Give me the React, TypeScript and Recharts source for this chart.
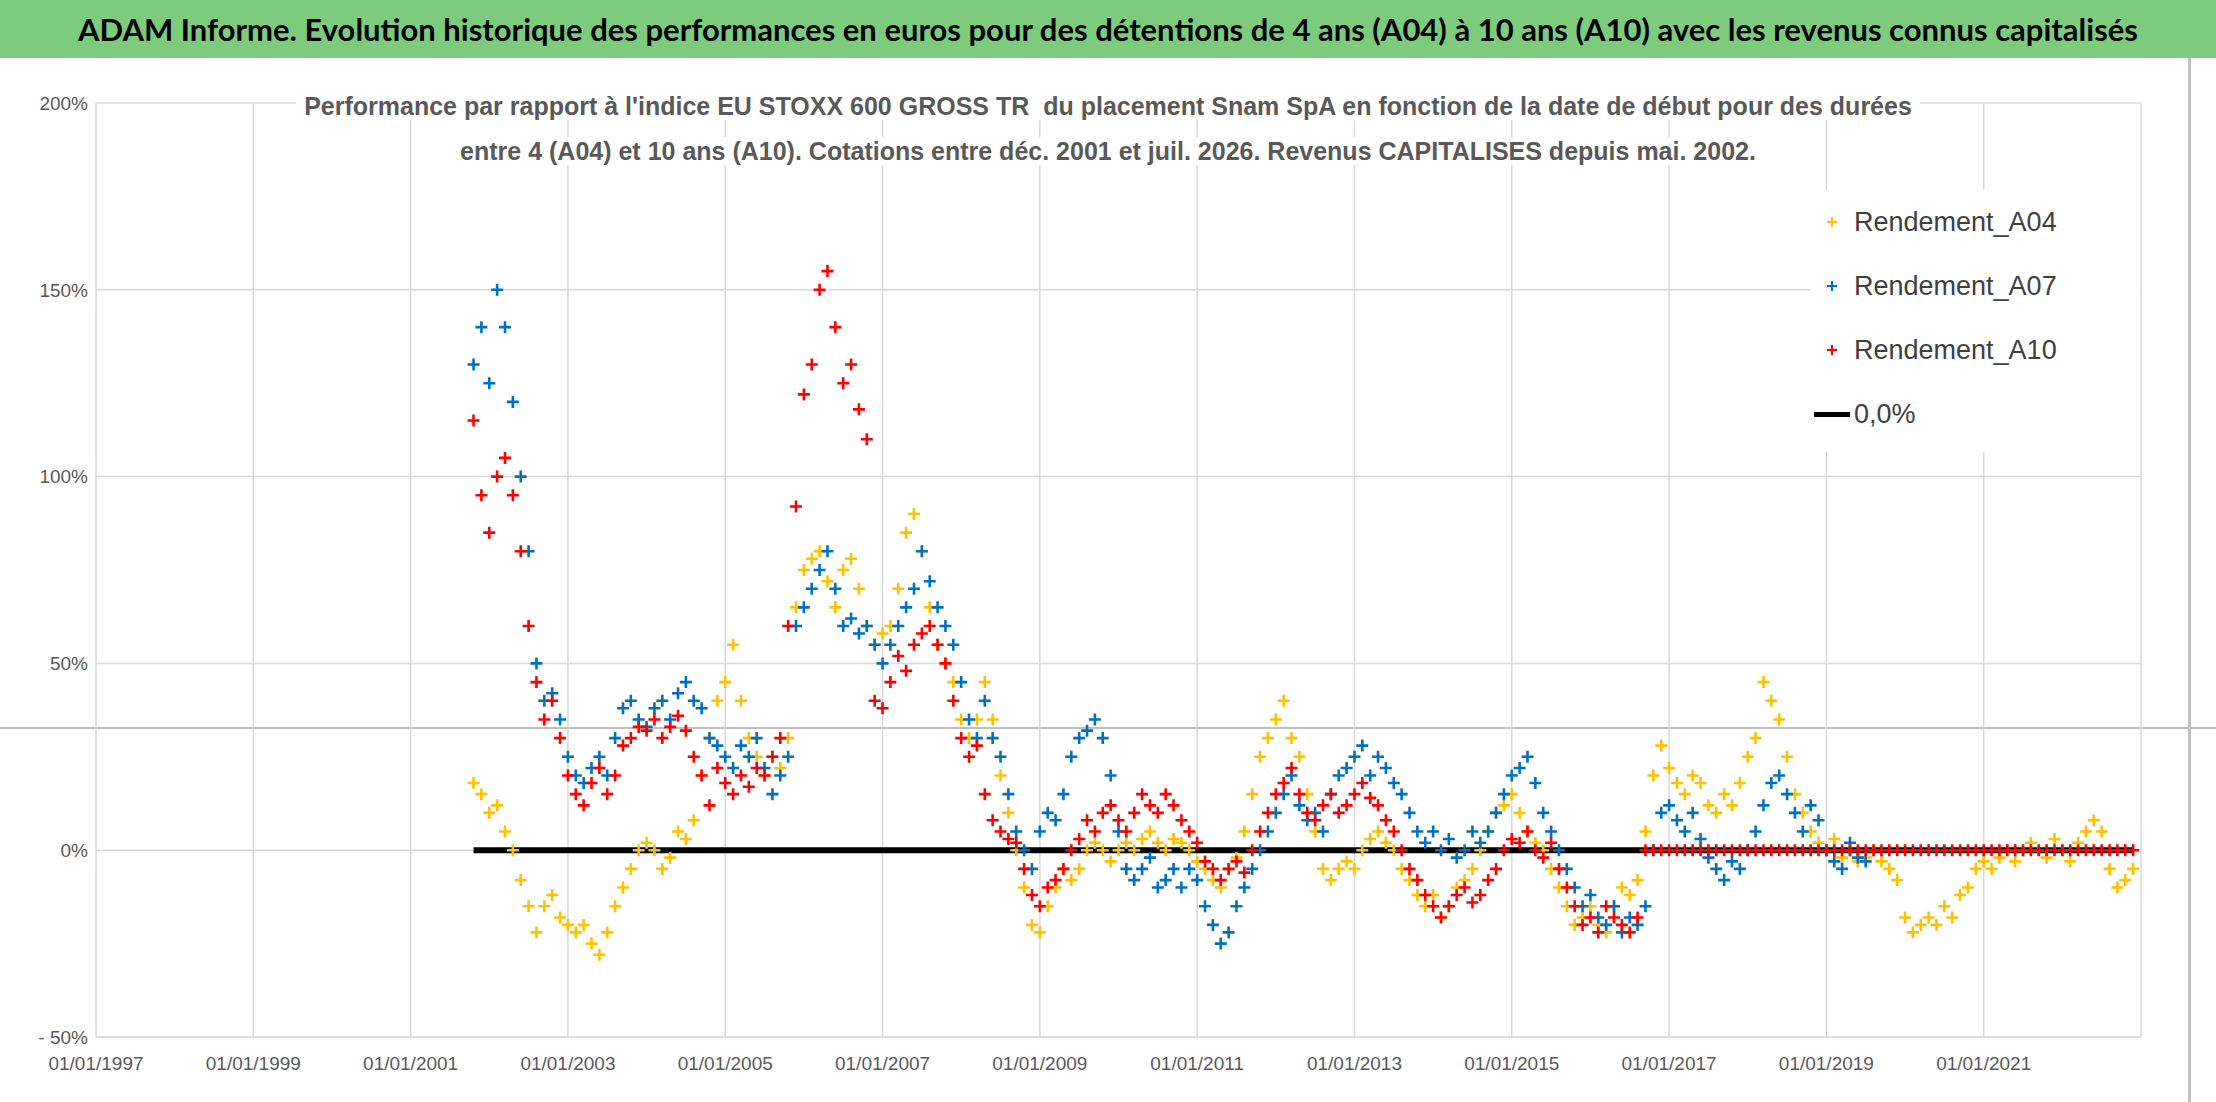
import React from 'react';
import { ComposedChart, Scatter, XAxis, YAxis, CartesianGrid } from 'recharts';

// Monthly-ish readings (step 0.1 year) from the reference
const STEP = 0.1;
const startA04 = 2001.8;
const a04 = [
  18, 15, 10, 12, 5, 0, -8, -15, -22, -15, -12, -18, -20, -22, -20, -25, -28, -22, -15, -10,
  -5, 0, 2, 0, -5, -2, 5, 3, 8, 20, 30, 40, 45, 55, 40, 30, 25, 20, 25, 22,
  30, 65, 75, 78, 80, 72, 65, 75, 78, 70, 60, 55, 58, 60, 70, 85, 90, 80, 65, 55,
  50, 45, 35, 30, 35, 45, 35, 20, 10, 0, -10, -20, -22, -15, -10, -5, -8, -5, 0, 2,
  0, -3, 0, 2, 0, 3, 5, 2, 0, 3, 2, 0, -3, -5, -8, -10, -5, -2, 5, 15,
  25, 30, 35, 40, 30, 25, 15, 5, -5, -8, -5, -3, -5, 0, 3, 5, 2, 0, -5, -8,
  -12, -15, -12, -18, -15, -10, -8, -5, 0, 5, 10, 12, 15, 10, 5, 2, 0, -5, -10, -15,
  -20, -18, -15, -20, -22, -15, -10, -12, -8, 5, 20, 28, 22, 18, 15, 20, 18, 12, 10, 15,
  12, 18, 25, 30, 45, 40, 35, 25, 15, 10, 5, 2, 0, 3, -2, 0, -3, -2, 0, -3,
  -5, -8, -18, -22, -20, -18, -20, -15, -18, -12, -10, -5, -3, -5, -2, 0, -3, 0, 2, 0,
  -2, 3, 0, -3, 2, 5, 8, 5, -5, -10, -8, -5,
];
const startA07 = 2001.8;
const a07 = [
  130, 140, 125, 150, 140, 120, 100, 80, 50, 40, 42, 35, 25, 20, 18, 22, 25, 20, 30, 38,
  40, 35, 33, 38, 40, 35, 42, 45, 40, 38, 30, 28, 25, 22, 28, 25, 30, 22, 15, 20,
  25, 60, 65, 70, 75, 80, 70, 60, 62, 58, 60, 55, 50, 55, 60, 65, 70, 80, 72, 65,
  60, 55, 45, 35, 30, 40, 30, 25, 15, 5, 0, -5, 5, 10, 8, 15, 25, 30, 32, 35,
  30, 20, 5, -5, -8, -5, -2, -10, -8, -5, -10, -5, -8, -15, -20, -25, -22, -15, -10, -5,
  0, 5, 10, 15, 20, 12, 8, 10, 5, 15, 20, 22, 25, 28, 20, 25, 22, 18, 15, 10,
  5, 2, 5, 0, 3, -2, 0, 5, 2, 5, 10, 15, 20, 22, 25, 18, 10, 5, 0, -5,
  -10, -15, -12, -18, -20, -15, -22, -18, -20, -15, 0, 10, 12, 8, 5, 10, 3, -2, -5, -8,
  -3, -5, 0, 5, 12, 18, 20, 15, 10, 5, 12, 8, 0, -3, -5, 2, -2, -3,
];
const startA10 = 2001.8;
const a10 = [
  115, 95, 85, 100, 105, 95, 80, 60, 45, 35, 40, 30, 20, 15, 12, 18, 22, 15, 20, 28,
  30, 33, 32, 35, 30, 33, 36, 32, 25, 20, 12, 22, 18, 15, 20, 17, 22, 20, 25, 30,
  60, 92, 122, 130, 150, 155, 140, 125, 130, 118, 110, 40, 38, 45, 52, 48, 55, 58, 60, 55,
  50, 40, 30, 25, 28, 15, 8, 5, 3, 2, -5, -12, -15, -10, -8, -5, 0, 3, 8, 5,
  10, 12, 8, 5, 10, 15, 12, 10, 15, 12, 8, 5, 2, -3, -5, -8, -5, -3, -6, 0,
  5, 10, 15, 18, 22, 15, 10, 8, 12, 15, 10, 12, 15, 18, 14, 12, 8, 5, 0, -5,
  -8, -12, -15, -18, -15, -12, -10, -14, -12, -8, -5, 0, 3, 2, 5, 0, -2, 2, -5, -10,
  -15, -20, -18, -22, -15, -18, -20, -22, -18,
  0, 0, 0, 0, 0, 0, 0, 0, 0, 0, 0, 0, 0, 0, 0, 0, 0, 0, 0, 0,
  0, 0, 0, 0, 0, 0, 0, 0, 0, 0, 0, 0, 0, 0, 0, 0, 0, 0, 0, 0,
  0, 0, 0, 0, 0, 0, 0, 0, 0, 0, 0, 0, 0, 0, 0, 0, 0, 0, 0, 0, 0, 0, 0,
];
const zeroLine = [
  { x: 2001.8, y: 0 },
  { x: 2022.9, y: 0 },
];
const xTicks = [1997, 1999, 2001, 2003, 2005, 2007, 2009, 2011, 2013, 2015, 2017, 2019, 2021, 2023];
const yTicks = [-50, 0, 50, 100, 150, 200];

const toPoints = (start: number, vals: number[]) =>
  vals.map((y, i) => ({ x: +(start + i * STEP).toFixed(2), y }));

const FONT = '"Liberation Sans Narrow", "Arial Narrow", sans-serif';
const YELLOW = '#FFC000';
const BLUE = '#0070C0';
const RED = '#FF0000';

const cross = (color: string) => (props: any) => {
  const { cx, cy } = props;
  if (cx == null || cy == null) return <g />;
  return (
    <path
      d={`M${cx - 6},${cy}H${cx + 6}M${cx},${cy - 6}V${cy + 6}`}
      stroke={color}
      strokeWidth={2.6}
    />
  );
};

const LegendItem = ({ color, label, line }: { color: string; label: string; line?: boolean }) => (
  <div style={{ display: 'flex', alignItems: 'center', height: 64 }}>
    <div style={{ width: 44, display: 'flex', justifyContent: 'center' }}>
      {line ? (
        <div style={{ width: 36, height: 5, background: '#000' }} />
      ) : (
        <svg width="12" height="12">
          <path d="M1,6H11M6,1V11" stroke={color} strokeWidth={2} />
        </svg>
      )}
    </div>
    <span>{label}</span>
  </div>
);

export default function App() {
  return (
    <div style={{ position: 'absolute', left: 0, top: 0, width: 2216, height: 1102, background: '#fff', fontFamily: FONT, overflow: 'hidden' }}>
      <div
        style={{
          position: 'absolute', left: 0, top: 0, width: 2216, height: 58, background: '#7DCB7D',
          display: 'flex', alignItems: 'center', justifyContent: 'center',
          fontWeight: 'bold', fontSize: 31, color: '#000', fontFamily: 'Lato, sans-serif',
        }}
      >
        ADAM Informe. Evolution historique des performances en euros pour des détentions de 4 ans (A04) à 10 ans (A10) avec les revenus connus capitalisés
      </div>
      <div style={{ position: 'absolute', left: 0, top: 727, width: 2216, height: 2, background: '#bfbfbf' }} />
      <div style={{ position: 'absolute', left: 0, top: 58 }}>
        <ComposedChart width={2200} height={1044} margin={{ top: 45, right: 59, bottom: 10, left: 0 }}>
          <CartesianGrid stroke="#d9d9d9" strokeWidth={1.5} />
          <XAxis
            type="number"
            dataKey="x"
            domain={[1997, 2023]}
            ticks={xTicks}
            interval={0}
            tickFormatter={(v) => (v === 2023 ? '' : `01/01/${v}`)}
            tick={{ fill: '#595959', fontSize: 19, fontFamily: FONT }}
            axisLine={{ stroke: '#d9d9d9' }}
            tickLine={false}
            height={55}
            tickMargin={14}
          />
          <YAxis
            type="number"
            dataKey="y"
            domain={[-50, 200]}
            ticks={yTicks}
            tickFormatter={(v) => (v < 0 ? `- ${-v}%` : `${v}%`)}
            tick={{ fill: '#595959', fontSize: 19, fontFamily: FONT }}
            axisLine={false}
            tickLine={false}
            width={96}
          />
          <Scatter data={zeroLine} line={{ stroke: '#000', strokeWidth: 6 }} shape={() => <g />} isAnimationActive={false} />
          <Scatter data={toPoints(startA04, a04)} shape={cross(YELLOW)} isAnimationActive={false} />
          <Scatter data={toPoints(startA07, a07)} shape={cross(BLUE)} isAnimationActive={false} />
          <Scatter data={toPoints(startA10, a10)} shape={cross(RED)} isAnimationActive={false} />
        </ComposedChart>
      </div>
      <div
        style={{
          position: 'absolute', left: 0, width: 2216, top: 84, textAlign: 'center',
          color: '#595959', fontWeight: 'bold', fontSize: 25, lineHeight: '45px', pointerEvents: 'none',
        }}
      >
        <span style={{ background: '#fff', padding: '0 8px' }}>
          Performance par rapport à l'indice EU STOXX 600 GROSS TR&nbsp; du placement Snam SpA en fonction de la date de début pour des durées
        </span>
        <br />
        <span style={{ background: '#fff', padding: '0 8px' }}>
          entre 4 (A04) et 10 ans (A10). Cotations entre déc. 2001 et juil. 2026. Revenus CAPITALISES depuis mai. 2002.
        </span>
      </div>
      <div
        style={{
          position: 'absolute', left: 1810, top: 190, width: 330, height: 262, background: '#fff',
          color: '#404040', fontSize: 27, paddingTop: 0,
        }}
      >
        <LegendItem color={YELLOW} label="Rendement_A04" />
        <LegendItem color={BLUE} label="Rendement_A07" />
        <LegendItem color={RED} label="Rendement_A10" />
        <LegendItem color="#000" label="0,0%" line />
      </div>
      <div style={{ position: 'absolute', left: 2188, top: 58, width: 3, height: 1044, background: '#bfbfbf' }} />
    </div>
  );
}
